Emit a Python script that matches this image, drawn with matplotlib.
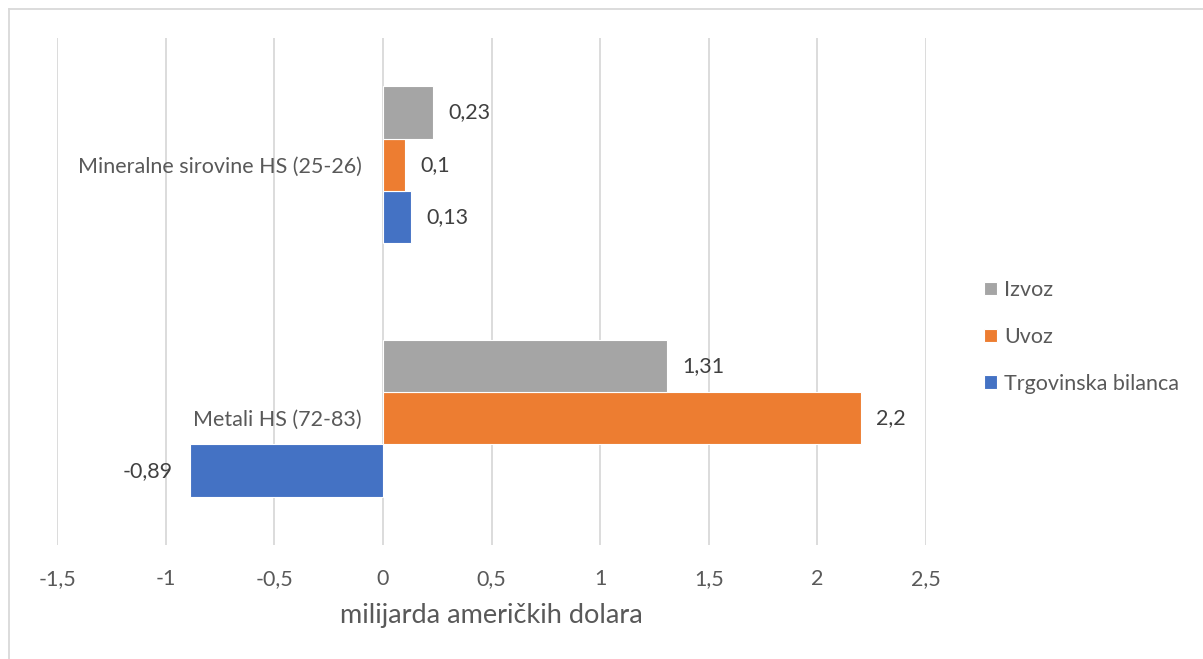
import matplotlib.pyplot as plt
from matplotlib.lines import Line2D
import numpy as np

plt.rcParams['font.family'] = ['Lato', 'DejaVu Sans']

# data (billion USD)
categories = ['Metali HS (72-83)', 'Mineralne sirovine HS (25-26)']
series_names = ['Trgovinska bilanca', 'Uvoz', 'Izvoz']
bilanca = [-0.89, 0.13]
uvoz = [2.2, 0.1]
izvoz = [1.31, 0.23]
xticks = [-1.5, -1, -0.5, 0, 0.5, 1, 1.5, 2, 2.5]

colors = ['#4472C4', '#ED7D31', '#A5A5A5']
text_col = '#595959'
fs = 15.5

def fmt(v):
    return ('%g' % v).replace('.', ',')

fig = plt.figure(figsize=(12.03, 6.59), dpi=100)
ax = fig.add_axes([57 / 1203, 1 - 545 / 659, 869 / 1203, 507 / 659])

y = np.arange(len(categories))
h = 0.207
bars = []
for i, (vals, name) in enumerate(zip([bilanca, uvoz, izvoz], series_names)):
    b = ax.barh(y + (i - 1) * h, vals, height=h, color=colors[i], label=name,
                edgecolor='white', linewidth=0.8, zorder=3)
    bars.append(b)
    for rect, v in zip(b, vals):
        yc = rect.get_y() + rect.get_height() / 2
        if v >= 0:
            ax.annotate(fmt(v), (v, yc), xytext=(11, 0), textcoords='offset points',
                        ha='left', va='center', fontsize=fs, color='#404040')
        else:
            ax.annotate(fmt(v), (v, yc), xytext=(-12, 0), textcoords='offset points',
                        ha='right', va='center', fontsize=fs, color='#404040')

# category axis sits at x = 0 like in the original
ax.spines['left'].set_position(('data', 0))
for s in ['left', 'right', 'top', 'bottom']:
    ax.spines[s].set_visible(False)

ax.set_xlim(-1.5, 2.5)
ax.set_ylim(-0.5, 1.5)
ax.set_xticks(xticks)
ax.set_xticklabels([fmt(t) for t in xticks], fontsize=fs, color=text_col)
ax.tick_params(axis='x', length=0, pad=17)
ax.grid(axis='x', color='#D9D9D9', linewidth=1.3, zorder=0)

ax.set_yticks(y)
ax.set_yticklabels(categories, fontsize=fs, color=text_col)
ax.tick_params(axis='y', length=0, pad=15)

ax.set_xlabel('milijarda američkih dolara', fontsize=19.5, color=text_col, labelpad=10)

handles = [bars[2], bars[1], bars[0]]
leg = fig.legend(handles, [series_names[2], series_names[1], series_names[0]],
                 loc='center left', bbox_to_anchor=(965 / 1203, 1 - 337 / 659),
                 frameon=False, fontsize=fs, handlelength=0.6, handleheight=0.6,
                 handletextpad=0.3, labelspacing=1.25, labelcolor=text_col)

# chart border (only top and left visible in crop)
fig.add_artist(Line2D([9 / 1203, 9 / 1203], [0, 1 - 9 / 659], color='#D9D9D9', lw=1.3))
fig.add_artist(Line2D([9 / 1203, 1], [1 - 9 / 659, 1 - 9 / 659], color='#D9D9D9', lw=1.3))

fig.savefig('out.png', dpi=100)
